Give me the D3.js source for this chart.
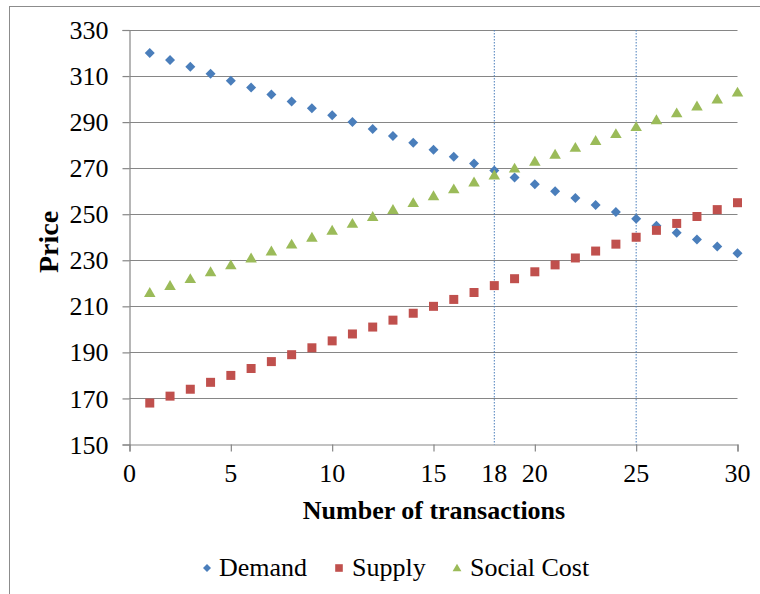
<!DOCTYPE html>
<html>
<head>
<meta charset="utf-8">
<script src="https://cdn.jsdelivr.net/npm/d3@7"></script>
<style>
  html, body { margin: 0; padding: 0; background: #fff; }
  svg { display: block; }
</style>
</head>
<body>
<svg id="chart" width="760" height="594"></svg>
<script>
// Number of transactions (x) and the three price series
const transactions = [1,2,3,4,5,6,7,8,9,10,11,12,13,14,15,16,17,18,19,20,21,22,23,24,25,26,27,28,29,30];
const demand = [320,317,314,311,308,305,302,299,296,293,290,287,284,281,278,275,272,269,266,263,260,257,254,251,248,245,242,239,236,233];
const supply = [168,171,174,177,180,183,186,189,192,195,198,201,204,207,210,213,216,219,222,225,228,231,234,237,240,243,246,249,252,255];
const socialCost = [216,219,222,225,228,231,234,237,240,243,246,249,252,255,258,261,264,267,270,273,276,279,282,285,288,291,294,297,300,303];

const xTickValues = [0,5,10,15,20,25,30];
const xLabelValues = [0,5,10,15,18,20,25,30];
const yTickValues = [150,170,190,210,230,250,270,290,310,330];
const markerLines = [18,25];

const seriesNames = ["Demand","Supply","Social Cost"];
const seriesColors = ["#4a7ebb","#c0504d","#9bbb59"];

const svg = d3.select("#chart");
const FONT = "Liberation Serif";

// outer chart frame
svg.append("rect")
  .attr("x", 9.5).attr("y", 6.5)
  .attr("width", 760).attr("height", 600)
  .attr("fill", "none").attr("stroke", "#8c8c8c").attr("stroke-width", 1);

const x = d3.scaleLinear().domain([0, 30]).range([129.5, 737.5]);
const y = d3.scaleLinear().domain([150, 330]).range([444.5, 30]);

// horizontal gridlines
svg.append("g")
  .selectAll("line")
  .data(yTickValues.filter(v => v > 150))
  .join("line")
  .attr("x1", x(0)).attr("x2", x(30))
  .attr("y1", d => Math.round(y(d)) + 0.5).attr("y2", d => Math.round(y(d)) + 0.5)
  .attr("stroke", "#868686").attr("stroke-width", 1.2);

// y axis
const yAxis = svg.append("g")
  .attr("transform", `translate(${x(0)},0)`)
  .call(d3.axisLeft(y).tickValues(yTickValues).tickSize(7).tickPadding(14).tickFormat(d3.format("d")));
yAxis.attr("font-family", FONT);
yAxis.selectAll("line, path").attr("stroke", "#868686").attr("stroke-width", 1.2);
yAxis.selectAll("text")
  .attr("font-family", FONT).attr("font-size", 26)
  .attr("dy", "0.33em").attr("fill", "#000");

// x axis (ticks every 5, labels include 18)
const xAxis = svg.append("g")
  .attr("transform", `translate(0,${y(150)})`)
  .call(d3.axisBottom(x).tickValues(xTickValues).tickSize(7).tickFormat(""));
xAxis.selectAll("line, path").attr("stroke", "#868686").attr("stroke-width", 1.2);

svg.append("g")
  .selectAll("text")
  .data(xLabelValues)
  .join("text")
  .attr("x", d => x(d)).attr("y", 482)
  .attr("text-anchor", "middle")
  .attr("font-family", FONT)
  .attr("font-size", 26)
  .text(d => d);

// dotted reference lines
svg.append("g")
  .selectAll("line")
  .data(markerLines)
  .join("line")
  .attr("x1", d => x(d)).attr("x2", d => x(d))
  .attr("y1", y(330)).attr("y2", y(150))
  .attr("stroke", "#4a7ebb").attr("stroke-width", 1)
  .attr("stroke-dasharray", "1.5,1.5");

// axis titles
svg.append("text")
  .attr("x", 434).attr("y", 519)
  .attr("text-anchor", "middle")
  .attr("font-family", FONT)
  .attr("font-size", 26).attr("font-weight", "bold")
  .text("Number of transactions");

svg.append("text")
  .attr("transform", "translate(58,242) rotate(-90)")
  .attr("text-anchor", "middle")
  .attr("font-family", FONT)
  .attr("font-size", 28).attr("font-weight", "bold")
  .text("Price");

// marker shapes: square diamond, square, triangle
const diamond = r => `M0,${-r}L${r},0L0,${r}L${-r},0Z`;
const square = r => `M${-r},${-r}H${r}V${r}H${-r}Z`;
const triangle = r => `M0,${-r}L${r * 1.05},${r * 0.8}L${-r * 1.05},${r * 0.8}Z`;
const shapes = [diamond, square, triangle];
const plotRadius = [5, 4.5, 5.5];
const seriesData = [demand, supply, socialCost];

seriesData.forEach((vals, i) => {
  svg.append("g")
    .selectAll("path")
    .data(transactions.map((t, k) => ({t, v: vals[k]})))
    .join("path")
    .attr("d", shapes[i](plotRadius[i]))
    .attr("transform", d => `translate(${x(d.t)},${y(d.v)})`)
    .attr("fill", seriesColors[i]);
});

// legend
const legendItems = [
  {mx: 207, tx: 219},
  {mx: 339, tx: 352},
  {mx: 457, tx: 470}
];
const legendRadius = [4, 3.8, 4.2];
const legend = svg.append("g");
legendItems.forEach((it, i) => {
  legend.append("path")
    .attr("d", shapes[i](legendRadius[i]))
    .attr("transform", `translate(${it.mx},568)`)
    .attr("fill", seriesColors[i]);
  legend.append("text")
    .attr("x", it.tx).attr("y", 576)
    .attr("font-family", FONT)
    .attr("font-size", 26)
    .text(seriesNames[i]);
});
</script>
</body>
</html>
